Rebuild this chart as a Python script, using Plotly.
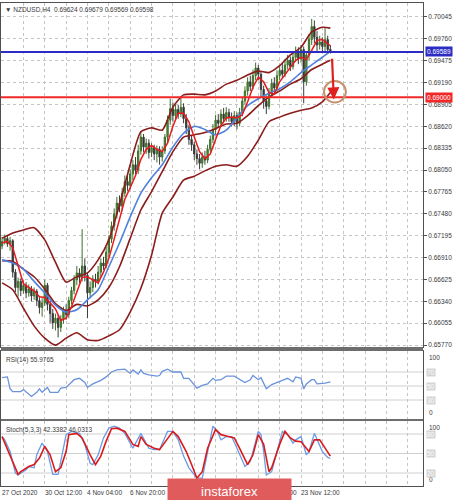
import plotly.graph_objects as go
from plotly.subplots import make_subplots

# NZDUSD H4 bars, index 0 = 27 Oct 2020 20:00, last = 25 Nov 08:00
opens = [0.6706, 0.6712, 0.6716, 0.6709, 0.6713, 0.6672, 0.6652, 0.6660, 0.6648, 0.6655,
         0.6645, 0.6650, 0.6641, 0.6647, 0.6635, 0.6626, 0.6632, 0.6655, 0.6630, 0.6618,
         0.6606, 0.6612, 0.6600, 0.6611, 0.6622, 0.6617, 0.6635, 0.6648, 0.6662, 0.6671,
         0.6665, 0.6680, 0.6668, 0.6645, 0.6652, 0.6663, 0.6660, 0.6672, 0.6684, 0.6680,
         0.6698, 0.6715, 0.6732, 0.6748, 0.6762, 0.6758, 0.6775, 0.6790, 0.6785, 0.6800,
         0.6812, 0.6805, 0.6830, 0.6848, 0.6835, 0.6840, 0.6828, 0.6834, 0.6826, 0.6832,
         0.6822, 0.6830, 0.6848, 0.6870, 0.6885, 0.6876, 0.6884, 0.6878, 0.6887, 0.6872,
         0.6860, 0.6845, 0.6838, 0.6826, 0.6820, 0.6814, 0.6822, 0.6818, 0.6832, 0.6845,
         0.6858, 0.6870, 0.6866, 0.6878, 0.6872, 0.6880, 0.6874, 0.6868, 0.6876, 0.6866,
         0.6880, 0.6895, 0.6908, 0.6920, 0.6914, 0.6928, 0.6938, 0.6930, 0.6910, 0.6895,
         0.6888, 0.6905, 0.6918, 0.6912, 0.6928, 0.6935, 0.6930, 0.6942, 0.6948, 0.6940,
         0.6952, 0.6958, 0.6950, 0.6962, 0.6920, 0.6955, 0.6975, 0.6992, 0.6978, 0.6968,
         0.6972, 0.6966, 0.6975, 0.69624]
highs = [0.6718, 0.6721, 0.6719, 0.6718, 0.6715, 0.6676, 0.6665, 0.6664, 0.6661, 0.6659,
         0.6656, 0.6654, 0.6652, 0.6650, 0.6640, 0.6638, 0.6662, 0.6658, 0.6635, 0.6624,
         0.6618, 0.6616, 0.6616, 0.6627, 0.6630, 0.6640, 0.6653, 0.6668, 0.6680, 0.6677,
         0.6728, 0.6690, 0.6672, 0.6660, 0.6668, 0.6670, 0.6680, 0.6690, 0.6692, 0.6705,
         0.6720, 0.6738, 0.6755, 0.6770, 0.6772, 0.6782, 0.6798, 0.6800, 0.6806, 0.6818,
         0.6822, 0.6838, 0.6856, 0.6852, 0.6846, 0.6845, 0.6840, 0.6838, 0.6837, 0.6836,
         0.6836, 0.6852, 0.6876, 0.6898, 0.6893, 0.6890, 0.6890, 0.6900, 0.6892, 0.6878,
         0.6864, 0.6850, 0.6842, 0.6832, 0.6826, 0.6828, 0.6830, 0.6838, 0.6850, 0.6865,
         0.6877, 0.6878, 0.6884, 0.6886, 0.6887, 0.6885, 0.6880, 0.6882, 0.6880, 0.6886,
         0.6900, 0.6914, 0.6926, 0.6928, 0.6936, 0.6945, 0.6942, 0.6934, 0.6915, 0.6902,
         0.6912, 0.6924, 0.6926, 0.6935, 0.6942, 0.6945, 0.6950, 0.6955, 0.6953, 0.6960,
         0.6966, 0.6965, 0.6968, 0.6966, 0.6960, 0.6982, 0.7002, 0.7000, 0.6986, 0.6980,
         0.6978, 0.6990, 0.6980, 0.69679]
lows = [0.6702, 0.6708, 0.6705, 0.6700, 0.6665, 0.6646, 0.6640, 0.6641, 0.6644, 0.6638,
        0.6640, 0.6634, 0.6636, 0.6628, 0.6618, 0.6614, 0.6628, 0.6622, 0.6606, 0.6598,
        0.6596, 0.6587, 0.6594, 0.6605, 0.6610, 0.6612, 0.6630, 0.6643, 0.6655, 0.6658,
        0.6660, 0.6660, 0.6612, 0.6638, 0.6646, 0.6652, 0.6656, 0.6666, 0.6675, 0.6677,
        0.6692, 0.6710, 0.6726, 0.6742, 0.6750, 0.6752, 0.6770, 0.6778, 0.6780, 0.6792,
        0.6798, 0.6800, 0.6825, 0.6828, 0.6826, 0.6820, 0.6822, 0.6818, 0.6815, 0.6812,
        0.6816, 0.6826, 0.6842, 0.6864, 0.6868, 0.6870, 0.6872, 0.6874, 0.6866, 0.6852,
        0.6838, 0.6830, 0.6818, 0.6812, 0.6806, 0.6808, 0.6812, 0.6814, 0.6828, 0.6840,
        0.6852, 0.6860, 0.6862, 0.6866, 0.6868, 0.6868, 0.6862, 0.6862, 0.6858, 0.6862,
        0.6875, 0.6890, 0.6902, 0.6908, 0.6910, 0.6922, 0.6922, 0.6900, 0.6885, 0.6878,
        0.6884, 0.6900, 0.6905, 0.6908, 0.6922, 0.6925, 0.6926, 0.6936, 0.6934, 0.6936,
        0.6946, 0.6943, 0.6945, 0.6892, 0.6915, 0.6948, 0.6968, 0.6970, 0.6960, 0.6962,
        0.6958, 0.6960, 0.6956, 0.69569]
closes = [0.6712, 0.6716, 0.6709, 0.6713, 0.6672, 0.6652, 0.6660, 0.6648, 0.6655, 0.6645,
          0.6650, 0.6641, 0.6647, 0.6635, 0.6626, 0.6632, 0.6655, 0.6630, 0.6618, 0.6606,
          0.6612, 0.6600, 0.6611, 0.6622, 0.6617, 0.6635, 0.6648, 0.6662, 0.6671, 0.6665,
          0.6680, 0.6668, 0.6645, 0.6652, 0.6663, 0.6660, 0.6672, 0.6684, 0.6680, 0.6698,
          0.6715, 0.6732, 0.6748, 0.6762, 0.6758, 0.6775, 0.6790, 0.6785, 0.6800, 0.6812,
          0.6805, 0.6830, 0.6848, 0.6835, 0.6840, 0.6828, 0.6834, 0.6826, 0.6832, 0.6822,
          0.6830, 0.6848, 0.6870, 0.6885, 0.6876, 0.6884, 0.6878, 0.6887, 0.6872, 0.6860,
          0.6845, 0.6838, 0.6826, 0.6820, 0.6814, 0.6822, 0.6818, 0.6832, 0.6845, 0.6858,
          0.6870, 0.6866, 0.6878, 0.6872, 0.6880, 0.6874, 0.6868, 0.6876, 0.6866, 0.6880,
          0.6895, 0.6908, 0.6920, 0.6914, 0.6928, 0.6938, 0.6930, 0.6910, 0.6895, 0.6888,
          0.6905, 0.6918, 0.6912, 0.6928, 0.6935, 0.6930, 0.6942, 0.6948, 0.6940, 0.6952,
          0.6958, 0.6950, 0.6962, 0.6920, 0.6955, 0.6975, 0.6992, 0.6978, 0.6968, 0.6972,
          0.6966, 0.6975, 0.6962, 0.69598]

# indicator lines at every 4th bar
band_x = [0, 4, 8, 12, 16, 20, 24, 28, 32, 36, 40, 44, 48, 52, 56, 60,
          64, 68, 72, 76, 80, 84, 88, 92, 96, 100, 104, 108, 112, 116, 120, 123]
bb_upper = [0.6716, 0.6723, 0.6727, 0.6730, 0.6714, 0.6685, 0.6659, 0.6666, 0.6671, 0.6688,
            0.6714, 0.6760, 0.6812, 0.6855, 0.6860, 0.6857, 0.6887, 0.6903, 0.6904, 0.6903,
            0.6908, 0.6917, 0.6922, 0.6929, 0.6934, 0.6932, 0.6941, 0.6955, 0.6965, 0.6985,
            0.6991, 0.6990]
bb_middle = [0.6687, 0.6686, 0.6676, 0.6666, 0.6650, 0.6631, 0.6622, 0.6630, 0.6628, 0.6636,
             0.6652, 0.6679, 0.6716, 0.6753, 0.6777, 0.6803, 0.6829, 0.6848, 0.6851, 0.6854,
             0.6859, 0.6865, 0.6866, 0.6876, 0.6889, 0.6900, 0.6908, 0.6917, 0.6924, 0.6936,
             0.6943, 0.6948]
bb_lower = [0.6658, 0.6649, 0.6625, 0.6602, 0.6586, 0.6577, 0.6586, 0.6593, 0.6584, 0.6583,
            0.6589, 0.6597, 0.6620, 0.6651, 0.6694, 0.6749, 0.6770, 0.6792, 0.6797, 0.6804,
            0.6810, 0.6812, 0.6810, 0.6823, 0.6844, 0.6868, 0.6874, 0.6879, 0.6883, 0.6886,
            0.6894, 0.6906]
ma_slow = [0.6688, 0.6684, 0.6676, 0.6660, 0.6645, 0.6629, 0.6620, 0.6623, 0.6636, 0.6649,
           0.6679, 0.6710, 0.6744, 0.6775, 0.6795, 0.6812, 0.6835, 0.6853, 0.6862, 0.6858,
           0.6851, 0.6857, 0.6873, 0.6889, 0.6898, 0.6905, 0.6911, 0.6920, 0.6932, 0.6942,
           0.6952, 0.6960]

fast_x = [0, 2, 4, 6, 8, 10, 12, 14, 16, 18, 20, 22, 24, 26, 28, 30, 32, 34, 36, 38, 40,
          42, 44, 46, 48, 50, 52, 54, 56, 58, 60, 62, 64, 66, 68, 70, 72, 74, 76, 78, 80,
          82, 84, 86, 88, 90, 92, 94, 96, 98, 100, 102, 104, 106, 108, 110, 112, 114, 116,
          118, 120, 122, 123]
ma_fast = [0.6710, 0.6712, 0.6704, 0.6681, 0.6657, 0.6652, 0.6648, 0.6640, 0.6639, 0.6632,
           0.6624, 0.6609, 0.6612, 0.6627, 0.6647, 0.6665, 0.6666, 0.6662, 0.6658, 0.6672,
           0.6690, 0.6715, 0.6743, 0.6767, 0.6782, 0.6798, 0.6819, 0.6832, 0.6837, 0.6832,
           0.6829, 0.6840, 0.6862, 0.6879, 0.6879, 0.6868, 0.6848, 0.6829, 0.6820, 0.6826,
           0.6845, 0.6863, 0.6873, 0.6874, 0.6873, 0.6877, 0.6894, 0.6913, 0.6926, 0.6920,
           0.6906, 0.6904, 0.6920, 0.6929, 0.6939, 0.6948, 0.6952, 0.6949, 0.6961, 0.6974,
           0.6975, 0.6969, 0.6967]

rsi_x = [0, 2, 3, 4, 7, 8, 11, 13, 14, 15, 17, 18, 21, 22, 24, 25, 27, 29, 31, 32, 34, 37,
         39, 41, 43, 46, 48, 49, 51, 52, 53, 55, 58, 59, 60, 62, 64, 67, 68, 70, 72, 73, 75,
         77, 79, 80, 82, 84, 87, 89, 91, 93, 94, 96, 97, 99, 101, 105, 107, 109, 110, 112,
         113, 114, 116, 117, 118, 121, 123]
rsi = [62, 63, 46, 42, 42, 45, 35, 41, 46, 41, 48, 41, 41, 47, 48, 52, 59, 61, 55, 48, 53, 58,
       63, 70, 73, 74, 68, 73, 67, 73, 68, 66, 64, 65, 71, 74, 70, 70, 61, 61, 51, 47, 51,
       53, 61, 58, 59, 64, 64, 59, 55, 59, 65, 59, 62, 46, 52, 58, 61, 56, 63, 61,
       46, 53, 59, 59, 53, 54, 55.98]

stoch_k_x = [0, 1, 3, 5, 6, 9, 10, 12, 13, 15, 17, 19, 21, 22, 24, 26, 29, 31, 33, 34, 36, 38,
             40, 42, 44, 46, 48, 49, 52, 53, 55, 57, 59, 62, 64, 66, 68, 70, 73, 75, 77, 79,
             81, 82, 84, 86, 88, 91, 93, 96, 97, 98, 99, 101, 103, 105, 107, 109, 110, 112,
             114, 115, 117, 118, 120, 122, 123]
stoch_k = [76, 71, 53, 20, 17, 25, 30, 28, 48, 66, 53, 18, 18, 38, 79, 84, 81, 64, 35, 33, 48,
           74, 89, 92, 89, 81, 64, 58, 81, 74, 58, 56, 56, 84, 84, 71, 46, 28, 12, 12, 53, 92,
           81, 71, 76, 76, 58, 30, 38, 84, 79, 53, 17, 22, 53, 84, 79, 66, 71, 76,
           48, 53, 81, 71, 53, 44, 42.34]
stoch_d_x = [0, 2, 4, 6, 7, 10, 12, 14, 16, 18, 20, 22, 24, 25, 28, 30, 33, 35, 37, 39, 41, 43,
             46, 49, 51, 52, 54, 57, 59, 62, 64, 66, 69, 71, 73, 75, 77, 80, 82, 84, 87, 89,
             92, 94, 96, 98, 100, 101, 104, 106, 108, 110, 112, 115, 117, 119, 121, 123]
stoch_d = [76, 57, 38, 18, 22, 30, 33, 43, 61, 48, 22, 28, 53, 79, 81, 74, 48, 33, 46, 69, 88,
           89, 84, 64, 61, 76, 64, 58, 56, 74, 84, 76, 53, 33, 12, 22, 58, 87, 79, 77, 74, 58,
           33, 48, 79, 64, 22, 28, 64, 84, 74, 69, 68, 53, 71, 71, 58, 46.03]

price_ticks = [0.70045, 0.69760, 0.69475, 0.69190, 0.68905, 0.68620, 0.68335, 0.68050,
               0.67765, 0.67480, 0.67195, 0.66910, 0.66625, 0.66340, 0.66055, 0.65770]
# labels under the instaforex logo (11 Nov, 16 Nov) are hidden in the screenshot
time_ticks = [0, 16, 32, 48, 96, 112]
time_labels = ['27 Oct 2020', '30 Oct 12:00', '4 Nov 04:00', '6 Nov 20:00',
               '18 Nov 20:00', '23 Nov 12:00']
grid_x = list(range(8, 160, 8))
resistance = 0.69589
support = 0.69000
rsi_levels = [70, 50, 30]
stoch_levels = [80, 50, 20]

FONT = 'Liberation Sans'
TXT = '#3a3a3a'
GRID = '#c4c4c4'
FRAME = '#505050'

fig = make_subplots(rows=3, cols=1, shared_xaxes=True, vertical_spacing=0.01)

fig.add_trace(go.Candlestick(
  x=list(range(len(closes))), open=opens, high=highs, low=lows, close=closes,
  increasing=dict(line=dict(color='#3f6e2a', width=1), fillcolor='#4f9530'),
  decreasing=dict(line=dict(color='#3c3c3c', width=1), fillcolor='#2b3026'),
  whiskerwidth=0), row=1, col=1)

for band in (bb_upper, bb_middle, bb_lower):
  fig.add_trace(go.Scatter(x=band_x, y=band, mode='lines',
    line=dict(color='#8a1c1c', width=1.6, shape='spline', smoothing=0.6)), row=1, col=1)
fig.add_trace(go.Scatter(x=band_x, y=ma_slow, mode='lines',
  line=dict(color='#4f82dc', width=1.6, shape='spline', smoothing=0.6)), row=1, col=1)
fig.add_trace(go.Scatter(x=fast_x, y=ma_fast, mode='lines',
  line=dict(color='#e8191c', width=1.5)), row=1, col=1)

fig.add_trace(go.Scatter(x=rsi_x, y=rsi, mode='lines',
  line=dict(color='#6b93dc', width=1.3)), row=2, col=1)
fig.add_trace(go.Scatter(x=stoch_k_x, y=stoch_k, mode='lines',
  line=dict(color='#6b9be6', width=1.3)), row=3, col=1)
fig.add_trace(go.Scatter(x=stoch_d_x, y=stoch_d, mode='lines',
  line=dict(color='#d81c1c', width=1.6)), row=3, col=1)

# key levels
fig.add_hline(y=resistance, line=dict(color='#2c2cc4', width=2), row=1, col=1)
fig.add_hline(y=support, line=dict(color='#f02828', width=2), row=1, col=1)
for lv in rsi_levels:
  fig.add_hline(y=lv, line=dict(color='#d0d0d0', width=1), layer='below', row=2, col=1)
for lv in stoch_levels:
  fig.add_hline(y=lv, line=dict(color='#d0d0d0', width=1), layer='below', row=3, col=1)

# drawn arrow and circle
fig.add_annotation(x=124.3, y=0.6897, ax=123.6, ay=0.6952, xref='x', yref='y',
  axref='x', ayref='y', text='', showarrow=True, arrowhead=2, arrowsize=1.1,
  arrowwidth=2.2, arrowcolor='#e02020')
fig.add_shape(type='circle', xref='x', yref='y', x0=120.6, x1=128.8, y0=0.6893, y1=0.6921,
  line=dict(color='#c4936c', width=2))

# panel domains (plot area 3..486 px)
H = 483.0
def dom(top_px, bot_px):
  return [(486 - bot_px) / H, (486 - top_px) / H]

axis_common = dict(showline=True, mirror=True, linecolor=FRAME, linewidth=1, zeroline=False)
for r in (1, 2, 3):
  fig.update_xaxes(range=[-0.4, 157.7], tickmode='array', tickvals=grid_x,
    showticklabels=False, ticks='', showgrid=True, gridcolor=GRID, griddash='dot',
    gridwidth=1, rangeslider_visible=False, row=r, col=1, **axis_common)

fig.update_yaxes(side='right', range=[0.65745, 0.70227], tickmode='array',
  tickvals=price_ticks, ticktext=['%.5f' % t for t in price_ticks],
  showgrid=True, gridcolor=GRID, griddash='dot', ticks='outside', ticklen=3,
  tickcolor=FRAME, tickfont=dict(family=FONT, size=6.5, color=TXT),
  domain=dom(3, 347), row=1, col=1, **axis_common)
fig.update_yaxes(side='right', range=[2.9, 100], showticklabels=False, showgrid=False,
  domain=dom(351, 419), row=2, col=1, **axis_common)
fig.update_yaxes(side='right', range=[0, 100], showticklabels=False, showgrid=False,
  domain=dom(421, 486), row=3, col=1, **axis_common)

# panel separators
for top_px, bot_px in ((347, 351), (419, 421)):
  fig.add_shape(type='rect', xref='paper', yref='paper', x0=0, x1=1,
    y0=(486 - bot_px) / H, y1=(486 - top_px) / H,
    fillcolor='#6e6e6e', line=dict(width=0))

small = dict(family=FONT, size=6.5, color=TXT)
fig.add_annotation(text='\u25bc NZDUSD,H4  0.69624 0.69679 0.69569 0.69598', xref='paper',
  yref='paper', x=0.004, y=1, xanchor='left', yanchor='top', yshift=-1, showarrow=False,
  font=small)
fig.add_annotation(text='RSI(14) 55.9765', xref='paper', yref='paper', x=0.006,
  y=dom(351, 419)[1], xanchor='left', yanchor='top', yshift=-3, showarrow=False, font=small)
fig.add_annotation(text='Stoch(5,3,3) 42.3382 46.0313', xref='paper', yref='paper', x=0.006,
  y=dom(421, 486)[1], xanchor='left', yanchor='top', yshift=-3, showarrow=False, font=small)

# price labels on the axis
for val, col in ((resistance, '#2c2cc4'), (support, '#f02828')):
  fig.add_annotation(text='%.5f' % val, xref='paper', yref='y', x=1, y=val, xanchor='left',
    xshift=2, showarrow=False, bgcolor=col, borderpad=1,
    font=dict(family=FONT, size=6.5, color='white'))

# indicator scale labels
for yr, top_px, bot_px, levels in (('y2', 351, 419, rsi_levels), ('y3', 421, 486, stoch_levels)):
  fig.add_annotation(text='100', xref='paper', yref='paper', x=1, y=dom(top_px, bot_px)[1],
    xanchor='left', yanchor='top', xshift=4, yshift=-1, showarrow=False, font=small)
  fig.add_annotation(text='0', xref='paper', yref='paper', x=1, y=dom(top_px, bot_px)[0],
    xanchor='left', yanchor='bottom', xshift=4, yshift=1, showarrow=False, font=small)
  for lv in levels:
    fig.add_annotation(text=str(lv), xref='paper', yref=yr, x=1, y=lv, xanchor='left',
      xshift=3, showarrow=False, bgcolor='#d4d4d4', borderpad=0,
      font=dict(family=FONT, size=6.5, color='white'))

# time labels, left aligned at their bar
for t, lab in zip(time_ticks, time_labels):
  fig.add_annotation(text=lab, xref='x3', yref='paper', x=t, y=0, xanchor='left',
    yanchor='top', xshift=-2, yshift=-1, showarrow=False, font=small)

fig.add_annotation(text='instaforex', xref='paper', yref='paper', x=0.394, y=0.0166,
  xanchor='left', yanchor='top', width=121, height=22, showarrow=False,
  bgcolor='#e05c5c', font=dict(family=FONT, size=13, color='white'))

fig.update_layout(width=454, height=500,
  margin=dict(l=1, r=31, t=3, b=14, autoexpand=False),
  paper_bgcolor='white', plot_bgcolor='white', showlegend=False,
  font=dict(family=FONT, size=6.5, color=TXT))

# the page's default 8px body margin would push the figure off the window
fig.write_html('out.html', config={'staticPlot': True},
  post_script="document.body.style.margin='0px';")
